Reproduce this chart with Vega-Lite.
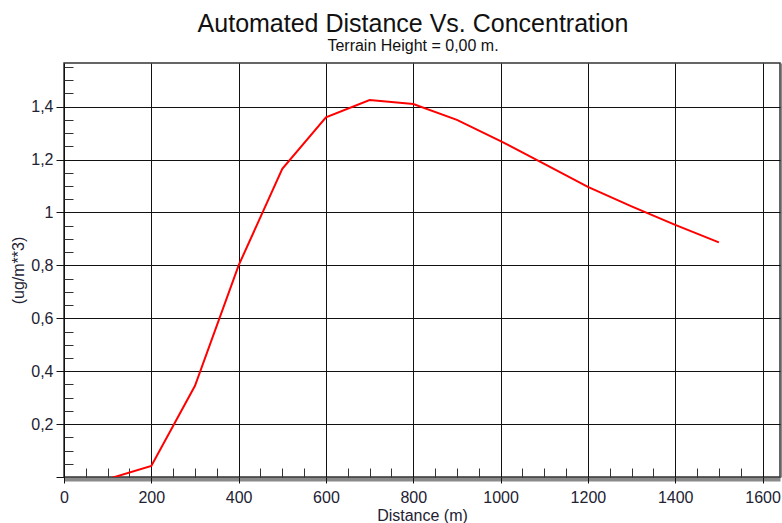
{
  "$schema": "https://vega.github.io/schema/vega-lite/v6.json",
  "width": 716,
  "height": 414,
  "autosize": {"type": "none"},
  "padding": {"left": 64, "top": 63, "right": 2, "bottom": 46},
  "background": "white",
  "config": {"view": {"stroke": "#333333", "strokeWidth": 1.5}, "font": "Liberation Sans"},
  "title": {
    "text": "Automated Distance Vs. Concentration",
    "subtitle": "Terrain Height = 0,00 m.",
    "fontSize": 25,
    "fontWeight": "normal",
    "subtitleFontSize": 16,
    "color": "#111111",
    "subtitleColor": "#111111",
    "font": "Liberation Sans",
    "subtitleFont": "Liberation Sans",
    "anchor": "middle",
    "dx": -9,
    "offset": 9,
    "subtitlePadding": 1
  },
  "data": {
    "values": [
      {"distance": 100, "conc": -0.008},
      {"distance": 200, "conc": 0.042},
      {"distance": 300, "conc": 0.345},
      {"distance": 400, "conc": 0.8},
      {"distance": 500, "conc": 1.165},
      {"distance": 600, "conc": 1.36},
      {"distance": 700, "conc": 1.425},
      {"distance": 800, "conc": 1.41},
      {"distance": 900, "conc": 1.35},
      {"distance": 1000, "conc": 1.27},
      {"distance": 1100, "conc": 1.184},
      {"distance": 1200, "conc": 1.097},
      {"distance": 1300, "conc": 1.023},
      {"distance": 1400, "conc": 0.953},
      {"distance": 1500, "conc": 0.887}
    ]
  },
  "layer": [
    {
      "mark": {"type": "line", "strokeOpacity": 0},
      "encoding": {
        "x": {
          "field": "distance", "type": "quantitative",
          "scale": {"domain": [0, 1640], "nice": false, "zero": true},
          "axis": {"orient": "bottom", "offset": 2, "domain": true, "domainColor": "#8a8a8a", "domainWidth": 4, "ticks": false, "labels": false, "grid": false, "title": null}
        },
        "y": {
          "field": "conc", "type": "quantitative",
          "scale": {"domain": [0, 1.565], "nice": false, "zero": true},
          "axis": {"orient": "right", "offset": 2, "domain": true, "domainColor": "#8a8a8a", "domainWidth": 3, "ticks": false, "labels": false, "grid": false, "title": null}
        }
      }
    },
    {
      "mark": {"type": "line", "strokeOpacity": 0},
      "encoding": {
        "x": {
          "field": "distance", "type": "quantitative",
          "scale": {"domain": [0, 1640], "nice": false, "zero": true},
          "axis": {"orient": "bottom", "domain": false, "labels": false, "grid": false, "title": null, "ticks": true, "tickSize": -9, "tickColor": "#333333", "tickWidth": 1,
            "values": [50,100,150,250,300,350,450,500,550,650,700,750,850,900,950,1050,1100,1150,1250,1300,1350,1450,1500,1550]}
        },
        "y": {
          "field": "conc", "type": "quantitative",
          "scale": {"domain": [0, 1.565], "nice": false, "zero": true},
          "axis": {"orient": "left", "domain": false, "labels": false, "grid": false, "title": null, "ticks": true, "tickSize": -9, "tickColor": "#333333", "tickWidth": 1,
            "values": [0.05,0.1,0.15,0.25,0.3,0.35,0.45,0.5,0.55,0.65,0.7,0.75,0.85,0.9,0.95,1.05,1.1,1.15,1.25,1.3,1.35,1.45,1.5,1.55]}
        }
      }
    },
    {
      "mark": {"type": "line", "color": "#ff0000", "strokeWidth": 2, "clip": true},
      "encoding": {
        "x": {
          "field": "distance", "type": "quantitative",
          "scale": {"domain": [0, 1640], "nice": false, "zero": true},
          "axis": {
            "orient": "bottom", "domain": false, "grid": true, "gridColor": "#111111", "gridWidth": 1, "gridOpacity": 1,
            "values": [0,200,400,600,800,1000,1200,1400,1600], "format": "d",
            "tickSize": 6, "tickColor": "#111111", "labelPadding": 6, "labelFontSize": 16, "labelColor": "#222233",
            "labelFlush": false, "labelOverlap": false, "labelBound": false,
            "title": "Distance (m)", "titleFontSize": 16, "titleFontWeight": "normal", "titleColor": "#222233", "titlePadding": 2
          }
        },
        "y": {
          "field": "conc", "type": "quantitative",
          "scale": {"domain": [0, 1.565], "nice": false, "zero": true},
          "axis": {
            "orient": "left", "domain": false, "grid": true, "gridColor": "#111111", "gridWidth": 1, "gridOpacity": 1,
            "values": [0,0.2,0.4,0.6,0.8,1,1.2,1.4],
            "labelExpr": "datum.value == 0 ? '' : replace(format(datum.value, '~g'), '.', ',')",
            "tickSize": 8, "tickColor": "#111111", "labelPadding": 3, "labelFontSize": 16, "labelColor": "#222233",
            "labelFlush": false, "labelOverlap": false, "labelBound": false,
            "title": "(ug/m**3)", "titleFontSize": 16, "titleFontWeight": "normal", "titleColor": "#222233", "titlePadding": 4
          }
        }
      }
    }
  ],
  "resolve": {"axis": {"x": "independent", "y": "independent"}}
}
